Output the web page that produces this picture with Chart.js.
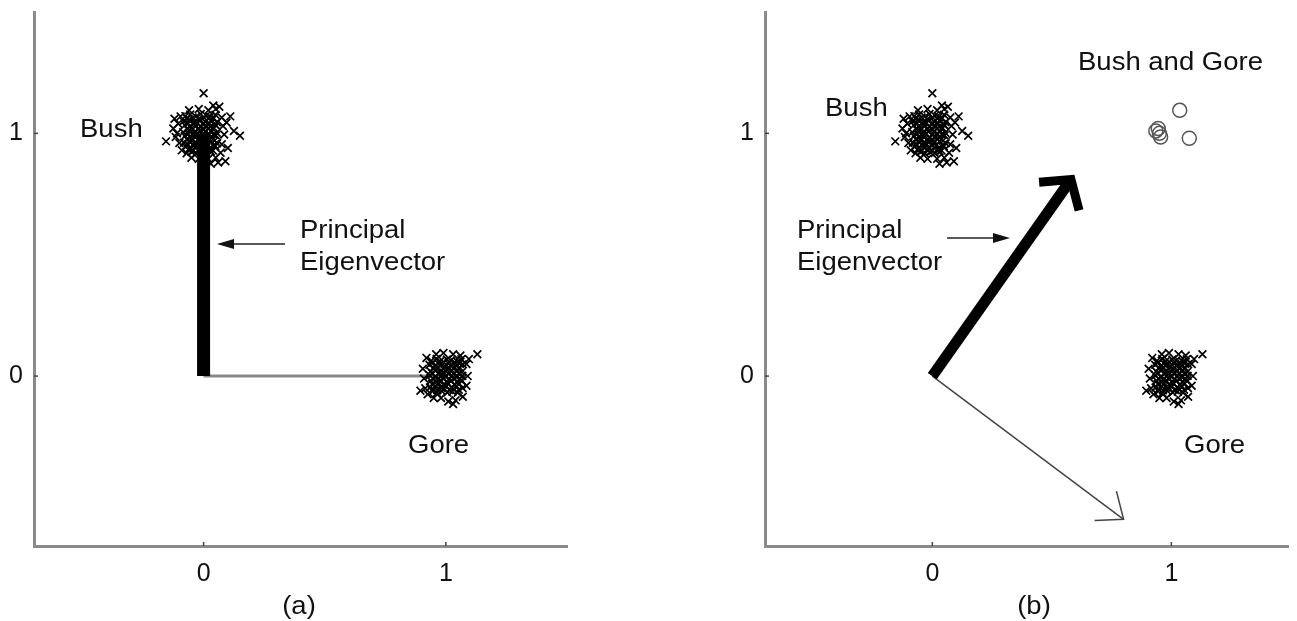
<!DOCTYPE html>
<html><head><meta charset="utf-8">
<script src="https://cdn.jsdelivr.net/npm/chart.js@4.4.1/dist/chart.umd.min.js"></script>
<style>
html,body{margin:0;padding:0;background:#fff;}
#wrap{position:relative;width:1297px;height:621px;overflow:hidden;background:#fff;}
canvas{position:absolute;top:0;}
#ca{left:0;} #cb{left:650px;}
</style></head><body>
<div id="wrap"><canvas id="ca" width="650" height="621"></canvas><canvas id="cb" width="647" height="621"></canvas></div>
<script>
// ---- tick labels ----
const xTicks = [0, 1];
const yTicks = [0, 1];

// ---- "Bush" cluster (around 0,1) ----
const bushX = [
 -0.075,-0.055,-0.031,-0.012,0.011,0.027,0.049,
 -0.083,-0.060,-0.038,-0.016,0.006,0.033,0.055,
 -0.078,-0.056,-0.034,-0.011,0.010,0.028,0.050,
 -0.084,-0.061,-0.039,-0.015,0.007,0.032,0.054,
 -0.077,-0.054,-0.035,-0.012,0.012,0.029,0.051,
 -0.081,-0.059,-0.037,-0.017,0.005,0.031,0.056,
 -0.074,-0.057,-0.033,-0.013,0.009,0.026,0.048,
 -0.070,-0.050,-0.030,-0.010,0.010,0.030,
 -0.068,-0.045,-0.020,0.002,0.020,0.041,
 -0.064,-0.042,-0.024,-0.003,0.024,0.046,
 -0.067,-0.047,-0.021,0.001,0.019,0.043,
 -0.063,-0.043,-0.025,-0.002,0.023,0.040,
 -0.069,-0.046,-0.019,0.003,0.021,0.045,
 -0.065,-0.041,-0.023,-0.001,0.018,0.042,
 -0.062,-0.044,-0.022,0.000,0.025,0.039,
 -0.105,-0.110,-0.100,-0.095,-0.060,-0.020,0.020,0.050,0.075,0.080,0.085,0.075,
 0.070,0.050,0.020,-0.020,-0.050,-0.090,0.090,0.060,0.030,0.100,0.110,0.095,
 -0.120,-0.125,-0.115,0.065,0.040,
 0.000,-0.155,0.150,0.125];
const bushY = [
 1.071,1.078,1.069,1.080,1.073,1.068,1.077,
 1.050,1.056,1.047,1.055,1.049,1.054,1.046,
 1.033,1.027,1.034,1.026,1.032,1.029,1.035,
 1.005,1.012,1.004,1.010,1.006,1.011,1.003,
 0.989,0.983,0.990,0.982,0.988,0.984,0.991,
 0.961,0.967,0.960,0.966,0.962,0.968,0.959,
 0.945,0.939,0.946,0.938,0.944,0.940,0.947,
 0.918,0.924,0.917,0.923,0.919,0.925,
 1.060,1.065,1.059,1.064,1.061,1.063,
 1.042,1.037,1.043,1.038,1.041,1.036,
 1.020,1.015,1.021,1.016,1.019,1.022,
 0.998,0.993,0.999,0.994,0.997,0.995,
 0.976,0.971,0.977,0.972,0.975,0.970,
 0.954,0.949,0.955,0.950,0.953,0.951,
 0.932,0.927,0.933,0.928,0.931,0.929,
 1.040,1.000,0.960,1.070,1.095,1.100,1.095,1.100,1.065,1.030,0.995,0.955,
 0.920,0.900,0.895,0.895,0.900,0.930,0.885,0.880,0.875,0.940,1.070,1.045,
 1.060,1.020,0.985,1.110,1.115,
 1.165,0.967,0.990,1.010];

// ---- "Gore" cluster (around 1,0) ----
const goreX = [
 0.940,0.962,0.976,1.004,1.020,1.048,1.064,
 0.932,0.955,0.981,0.998,1.026,1.043,1.070,
 0.937,0.959,0.977,1.003,1.021,1.047,1.066,
 0.933,0.956,0.982,0.999,1.025,1.044,1.068,
 0.938,0.960,0.978,1.005,1.022,1.046,1.065,
 0.934,0.958,0.980,1.000,1.024,1.042,1.069,
 0.945,0.963,0.983,1.006,1.027,1.049,
 0.944,0.969,0.991,1.010,1.036,1.055,
 0.948,0.966,0.988,1.014,1.032,1.058,
 0.945,0.970,0.992,1.011,1.035,1.054,
 0.947,0.967,0.989,1.013,1.033,1.057,
 0.943,0.971,0.990,1.009,1.037,1.056,
 0.949,0.965,0.993,1.015,1.031,1.053,
 0.905,0.910,0.915,0.920,0.960,0.990,1.030,1.060,1.085,1.090,1.085,
 1.070,1.040,1.010,0.980,0.950,0.925,0.895,1.030,1.095,1.130];
const goreY = [
 0.063,0.070,0.061,0.068,0.064,0.059,0.069,
 0.047,0.041,0.048,0.040,0.046,0.042,0.049,
 0.019,0.025,0.018,0.026,0.020,0.024,0.017,
 0.003,-0.004,0.004,-0.003,0.002,-0.005,0.001,
 -0.019,-0.025,-0.018,-0.026,-0.020,-0.024,-0.017,
 -0.047,-0.041,-0.048,-0.040,-0.046,-0.042,-0.049,
 -0.063,-0.070,-0.061,-0.068,-0.064,-0.069,
 0.055,0.052,0.058,0.053,0.057,0.054,
 0.033,0.036,0.030,0.035,0.031,0.034,
 0.011,0.008,0.014,0.009,0.013,0.010,
 -0.011,-0.014,-0.008,-0.013,-0.009,-0.012,
 -0.033,-0.030,-0.036,-0.031,-0.035,-0.032,
 -0.055,-0.058,-0.052,-0.057,-0.053,-0.056,
 0.030,-0.010,-0.050,0.075,0.090,0.095,0.090,0.085,0.050,0.000,-0.040,
 -0.085,-0.100,-0.105,-0.090,-0.090,-0.075,-0.060,-0.115,0.070,0.090];

// ---- "Bush and Gore" circles (panel b) ----
const bothX = [0.935, 0.950, 0.955, 0.945, 1.035, 1.075];
const bothY = [1.010, 1.000, 0.985, 1.020, 1.095, 0.980];

// ---- eigenvectors ----
const eigA_a = {x:[0, 0], y:[0, 1]};     // panel a, principal
const eigB_a = {x:[0, 1], y:[0, 0]};     // panel a, second
const eigA_b = {x:[0, 0.58], y:[0, 0.81]};   // panel b, principal
const eigB_b = {x:[0, 0.80], y:[0, -0.59]};  // panel b, second

const pts = (xs, ys) => xs.map((x, i) => ({x, y: ys[i]}));

const FONT = '"Liberation Sans", Arial, Helvetica, sans-serif';

const annot = {
  id: 'annot',
  afterDatasetsDraw(chart, args, o) {
    const ctx = chart.ctx;
    (o.heads || []).forEach(h => {
      const m = chart.getDatasetMeta(h.ds).data;
      const p0 = m[0], p1 = m[1];
      const ang = Math.atan2(p0.y - p1.y, p0.x - p1.x);
      ctx.save();
      ctx.strokeStyle = h.color; ctx.lineWidth = h.width;
      ctx.lineJoin = 'miter'; ctx.lineCap = 'butt';
      ctx.beginPath();
      ctx.moveTo(p1.x + h.len * Math.cos(ang + h.spread), p1.y + h.len * Math.sin(ang + h.spread));
      ctx.lineTo(p1.x, p1.y);
      ctx.lineTo(p1.x + h.len * Math.cos(ang - h.spread), p1.y + h.len * Math.sin(ang - h.spread));
      ctx.stroke();
      ctx.restore();
    });
  },
  afterDraw(chart, args, o) {
    const ctx = chart.ctx;
    const xs = chart.scales.x, ys = chart.scales.y;
    const ca = chart.chartArea;
    ctx.save();
    // inward tick marks
    ctx.strokeStyle = '#444'; ctx.lineWidth = 1.5;
    xTicks.forEach(v => { const p = xs.getPixelForValue(v); ctx.beginPath(); ctx.moveTo(p, ca.bottom); ctx.lineTo(p, ca.bottom - 4); ctx.stroke(); });
    yTicks.forEach(v => { const p = ys.getPixelForValue(v); ctx.beginPath(); ctx.moveTo(ca.left, p); ctx.lineTo(ca.left + 4, p); ctx.stroke(); });
    // texts
    ctx.fillStyle = '#111';
    ctx.font = '25px ' + FONT;
    ctx.textBaseline = 'alphabetic';
    (o.texts || []).forEach(t => {
      ctx.save();
      ctx.textAlign = t.align || 'left';
      ctx.translate(t.x, t.y); ctx.scale(1.1, 1);
      ctx.fillText(t.t, 0, 0);
      ctx.restore();
    });
    // pointer arrow
    const a = o.pointer;
    if (a) {
      ctx.strokeStyle = '#222'; ctx.fillStyle = '#111'; ctx.lineWidth = 1.5;
      const dir = Math.sign(a.x2 - a.x1);
      ctx.beginPath(); ctx.moveTo(a.x1, a.y); ctx.lineTo(a.x2 - dir * 12, a.y); ctx.stroke();
      ctx.beginPath(); ctx.moveTo(a.x2, a.y); ctx.lineTo(a.x2 - dir * 17, a.y - 5); ctx.lineTo(a.x2 - dir * 17, a.y + 5); ctx.closePath(); ctx.fill();
    }
    ctx.restore();
  }
};

function makePanel(id, cfg) {
  const cross = {type:'scatter', pointStyle:'crossRot', pointRadius:5.5, borderColor:'#000', borderWidth:1.7, backgroundColor:'#000', order:0};
  const datasets = [
    Object.assign({data: pts(bushX, bushY)}, cross),
    Object.assign({data: pts(goreX, goreY)}, cross),
    {type:'line', data: pts(cfg.eigA.x, cfg.eigA.y), showLine:true, borderColor:'#000', borderWidth:cfg.thick, pointRadius:0, borderCapStyle:'butt', order:3},
    {type:'line', data: pts(cfg.eigB.x, cfg.eigB.y), showLine:true, borderColor:cfg.thinColor, borderWidth:cfg.thin, pointRadius:0, borderCapStyle:'butt', order:4}
  ];
  if (cfg.circles) {
    datasets.push({type:'scatter', data: pts(bothX, bothY), pointStyle:'circle', pointRadius:7, borderColor:'#555', borderWidth:1.5, backgroundColor:'rgba(0,0,0,0)', order:1});
  }
  return new Chart(document.getElementById(id), {
    type: 'scatter',
    data: {datasets},
    options: {
      responsive:false, animation:false, devicePixelRatio:1,
      layout:{padding:{top:12, right:cfg.padRight, left:0, bottom:0}},
      plugins:{legend:{display:false}, tooltip:{enabled:false}, annot: cfg.annot},
      scales:{
        x:{type:'linear', min:-0.7, max:cfg.xmax,
           afterBuildTicks: s => { s.ticks = xTicks.map(v => ({value:v})); },
           afterFit: s => { s.height = 75; s.paddingLeft = 0; s.paddingRight = 0; },
           grid:{display:false, drawTicks:false},
           border:{display:true, color:'#8a8a8a', width:3},
           ticks:{padding:13, color:'#111', font:{family:FONT, size:25}}},
        y:{type:'linear', min:-0.7, max:1.5,
           afterBuildTicks: s => { s.ticks = yTicks.map(v => ({value:v})); },
           afterFit: s => { s.width = cfg.yw; s.paddingTop = 0; s.paddingBottom = 0; },
           grid:{display:false, drawTicks:false},
           border:{display:true, color:'#8a8a8a', width:3},
           ticks:{padding:11, color:'#111', font:{family:FONT, size:25}}}
      }
    },
    plugins:[annot]
  });
}

makePanel('ca', {
  eigA: eigA_a, eigB: eigB_a, thick: 13, thin: 3, thinColor:'#888', xmax:1.5, yw:34, padRight:83, circles:false,
  annot: {
    heads: [],
    texts: [
      {t:'Bush', x:80, y:137},
      {t:'Principal', x:300, y:238},
      {t:'Eigenvector', x:300, y:270},
      {t:'Gore', x:408, y:453},
      {t:'(a)', x:299, y:614, align:'center'}
    ],
    pointer: {x1:285, x2:217, y:244}
  }
});

makePanel('cb', {
  eigA: eigA_b, eigB: eigB_b, thick: 11, thin: 1.5, thinColor:'#444', xmax:1.49, yw:115, padRight:0, circles:true,
  annot: {
    heads: [
      {ds:2, len:32, spread:0.87, width:9, color:'#000'},
      {ds:3, len:29, spread:0.68, width:1.5, color:'#444'}
    ],
    texts: [
      {t:'Bush', x:175, y:116},
      {t:'Bush and Gore', x:428, y:70},
      {t:'Principal', x:147, y:238},
      {t:'Eigenvector', x:147, y:270},
      {t:'Gore', x:534, y:453},
      {t:'(b)', x:384, y:614, align:'center'}
    ],
    pointer: {x1:297, x2:360, y:238}
  }
});
</script>
</body></html>
